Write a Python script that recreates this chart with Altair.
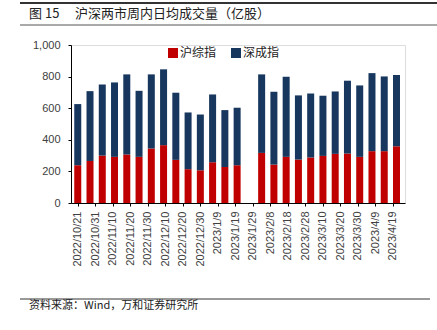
import altair as alt
import pandas as pd

dates = ["2022/10/21","2022/10/28","2022/11/4","2022/11/11","2022/11/18","2022/11/25",
         "2022/12/2","2022/12/9","2022/12/16","2022/12/23","2022/12/30","2023/1/6",
         "2023/1/13","2023/1/20","2023/2/3","2023/2/10","2023/2/17","2023/2/24",
         "2023/3/3","2023/3/10","2023/3/17","2023/3/24","2023/3/31","2023/4/7",
         "2023/4/14","2023/4/21"]
sh = [239,266,300,292,307,292,345,366,273,214,207,258,228,239,317,243,292,275,288,298,311,313,292,328,328,359]
sz = [387,442,450,471,507,418,469,480,425,359,353,429,360,364,497,461,507,406,405,381,395,461,452,494,473,451]
series = ["沪综指", "深成指"]
colors = ["#C00000", "#17375E"]
tick_labels = ["2022/10/21","2022/10/31","2022/11/10","2022/11/20","2022/11/30","2022/12/10",
               "2022/12/20","2022/12/30","2023/1/9","2023/1/19","2023/1/29","2023/2/8",
               "2023/2/18","2023/2/28","2023/3/10","2023/3/20","2023/3/30","2023/4/9","2023/4/19"]
title_no = "图 15"
title_txt = "沪深两市周内日均成交量（亿股）"
source_txt = "资料来源：Wind，万和证券研究所"

rows = []
for d, a, b in zip(dates, sh, sz):
    rows.append({"date": d, "series": series[0], "value": a, "ord": 0})
    rows.append({"date": d, "series": series[1], "value": b, "ord": 1})
df = pd.DataFrame(rows)

def dt(s):
    y, m, d = [int(x) for x in s.split("/")]
    return alt.DateTime(year=y, month=m, date=d)

W, H = 334, 158
FONT = "Liberation Sans"
CJK = "Noto Sans CJK SC"

bars = alt.Chart(df).mark_bar(size=7).encode(
    x=alt.X("date:T", title=None,
            scale=alt.Scale(domain=[dt("2022/10/20"), dt("2023/4/23")]),
            axis=alt.Axis(values=[dt(t) for t in tick_labels], format="%Y/%-m/%-d",
                          labelAngle=270, labelFont=FONT, labelFontSize=11,
                          labelColor="#404040", tickSize=3, tickColor="#000",
                          domainColor="#000", labelPadding=5, grid=False,
                          labelOverlap=False, labelFlush=False)),
    y=alt.Y("value:Q", stack="zero", title=None,
            scale=alt.Scale(domain=[0, 1000]),
            axis=alt.Axis(values=[0, 200, 400, 600, 800, 1000], format=",.0f",
                          labelFont=FONT, labelFontSize=11, labelColor="#404040",
                          tickSize=3, tickColor="#000", domainColor="#000",
                          labelPadding=8, grid=False)),
    color=alt.Color("series:N", scale=alt.Scale(domain=series, range=colors), legend=None),
    order=alt.Order("ord:Q"),
)

leg_df = pd.DataFrame({"series": series, "lx": [102, 165]})
leg_sym = alt.Chart(leg_df).mark_square(size=100, opacity=1, cornerRadius=2).encode(
    x=alt.X("lx:Q", scale=None),
    y=alt.value(8),
    color=alt.Color("series:N", scale=alt.Scale(domain=series, range=colors), legend=None),
)
leg_txt = alt.Chart(leg_df).mark_text(align="left", baseline="middle", font=CJK,
                                      fontSize=12, color="#222", dx=7).encode(
    x=alt.X("lx:Q", scale=None), y=alt.value(8), text="series:N")

def rule(x1, x2, y, color, w):
    return alt.Chart(pd.DataFrame({"a": [0]})).mark_rule(color=color, strokeWidth=w).encode(
        x=alt.value(x1), x2=alt.value(x2), y=alt.value(y))

def label(x, y, t, size, color="#111"):
    return alt.Chart(pd.DataFrame({"a": [0]})).mark_text(
        align="left", baseline="middle", font=CJK, fontSize=size, color=color).encode(
        x=alt.value(x), y=alt.value(y), text=alt.value(t))

deco = [
    rule(-51, 366, -42, "#333", 2),
    rule(-51, 366, -20, "#555", 1),
    rule(-51, 359, 254, "#777", 1.5),
    label(-42, -31, title_no, 13, "#222"),
    label(4, -31, title_txt, 13, "#222"),
    label(-42, 261, source_txt, 11, "#222"),
]

chart = alt.layer(bars, leg_sym, leg_txt, *deco).properties(
    width=W, height=H,
    autosize=alt.AutoSizeParams(type="none"),
    padding={"left": 71, "top": 45, "right": 32, "bottom": 127},
).configure_view(stroke=None).configure(background="white")

chart.save("out.html", embed_options={"renderer": "svg", "actions": False})
